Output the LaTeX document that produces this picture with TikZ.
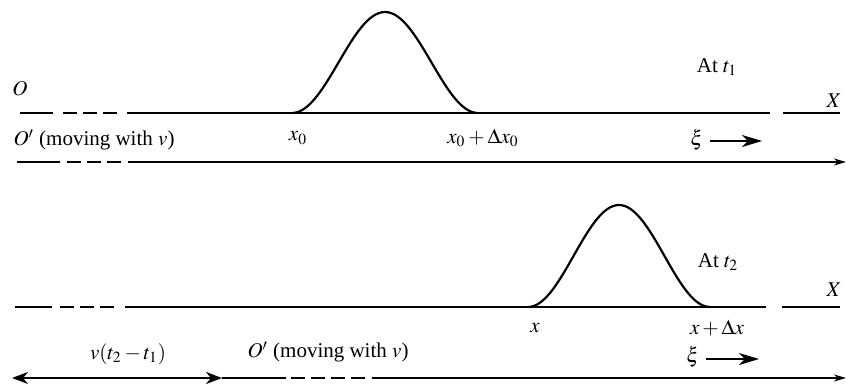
\documentclass[tikz,border=0pt]{standalone}
\usepackage{mathptmx}
\usepackage[no-math]{fontspec}
\setmainfont{Liberation Serif}
\usetikzlibrary{arrows.meta}

\begin{document}
\begin{tikzpicture}[
  x=0.5pt, y=-0.5pt,
  font=\fontsize{10.5}{12}\selectfont,
  % Line styles
  axis/.style={line width=0.6pt},
  gapped/.style={line width=0.7pt, dash pattern=on 7pt off 3pt},
  pulse/.style={line width=1.1pt},
  lbl/.style={inner sep=1pt},
  tip/.style={-{Stealth[length=10pt,width=6pt,inset=3pt]}},
  twotip/.style={{Stealth[length=8pt,width=6pt,inset=2.5pt]}-{Stealth[length=8pt,width=6pt,inset=2.5pt]}},
  endtip/.style={-{Stealth[length=6pt,width=3.5pt,inset=1.8pt]}}
]
  \useasboundingbox (0,0) rectangle (852,391);

  % ============================================
  % TOP: pulse at t_1
  % ============================================

  % Fixed axis O--X
  \coordinate (a1) at (20,113);
  \coordinate (a2) at (53,113);
  \coordinate (a3) at (63,113);
  \coordinate (a4) at (117,113);
  \coordinate (a5) at (127,113);
  \coordinate (a6) at (292,113);
  \coordinate (a7) at (770,113);
  \coordinate (a8) at (783,113);
  \coordinate (a9) at (840,113);
  \draw[axis] (a1) -- (a2);
  \draw[gapped] (a3) -- (a4);
  \draw[pulse] (a5) -- (a6);
  \draw[axis] (a6) -- (a7);
  \draw[axis] (a8) -- (a9);
  \draw[pulse] plot[variable=\t, domain=-1:1, samples=61] ({385+93*\t}, {113-50.5*(1+cos(180*\t))});

  \node[lbl] (o1) at (20,89) {$O$};
  \node[lbl] (x1) at (834,101) {$X$};
  \node[lbl] (at1) at (717,67) {At $t_1$};
  \node[lbl] (xa) at (298,138) {$x_0$};
  \node[lbl] (xb) at (483,138) {$x_0 + \Delta x_0$};

  % Moving axis O'
  \node[lbl] (op1) at (94,140) {$O'$ (moving with $v$)};
  \node[lbl] (xi1) at (697,140) {$\xi$};
  \coordinate (xi1e) at (762,141);
  \draw[tip, line width=0.8pt] (xi1.east) ++(4,1) -- (xi1e);

  \coordinate (b1) at (17,162);
  \coordinate (b2) at (60,162);
  \coordinate (b3) at (67,162);
  \coordinate (b4) at (121,162);
  \coordinate (b5) at (128,162);
  \coordinate (b6) at (846,162);
  \draw[axis] (b1) -- (b2);
  \draw[gapped] (b3) -- (b4);
  \draw[axis, endtip] (b5) -- (b6);

  % ============================================
  % BOTTOM: pulse at t_2
  % ============================================

  % Fixed axis
  \coordinate (c1) at (15,307);
  \coordinate (c2) at (52,307);
  \coordinate (c3) at (60,307);
  \coordinate (c4) at (114,307);
  \coordinate (c5) at (125,307);
  \coordinate (c6) at (193,307);
  \coordinate (c7) at (766,307);
  \coordinate (c8) at (782,307);
  \coordinate (c9) at (840,307);
  \draw[axis] (c1) -- (c2);
  \draw[gapped] (c3) -- (c4);
  \draw[pulse] (c5) -- (c6);
  \draw[axis] (c6) -- (c7);
  \draw[axis] (c8) -- (c9);
  \draw[pulse] plot[variable=\t, domain=-1:1, samples=61] ({619+91*\t}, {307-51*(1+cos(180*\t))});

  \node[lbl] (x2) at (834,290) {$X$};
  \node[lbl] (at2) at (718,262) {At $t_2$};
  \node[lbl] (xc) at (535,328) {$x$};
  \node[lbl] (xd) at (717,328) {$x + \Delta x$};

  % Moving axis O', shifted by v(t2-t1)
  \node[lbl] (sh) at (128,354) {$v(t_2 - t_1)$};
  \node[lbl] (op2) at (328,352) {$O'$ (moving with $v$)};
  \node[lbl] (xi2) at (693,357) {$\xi$};
  \coordinate (xi2e) at (759,359);
  \draw[tip, line width=0.8pt] (xi2.east) ++(4,2) -- (xi2e);

  \coordinate (d1) at (12,378);
  \coordinate (d2) at (222,378);
  \coordinate (d3) at (286,378);
  \coordinate (d4) at (291,378);
  \coordinate (d5) at (365,378);
  \coordinate (d6) at (372,378);
  \coordinate (d7) at (846,378);
  \draw[twotip, line width=1.1pt] (d1) -- (d2);
  \draw[axis] (d2) -- (d3);
  \draw[gapped] (d4) -- (d5);
  \draw[axis, endtip] (d6) -- (d7);

\end{tikzpicture}
\end{document}
